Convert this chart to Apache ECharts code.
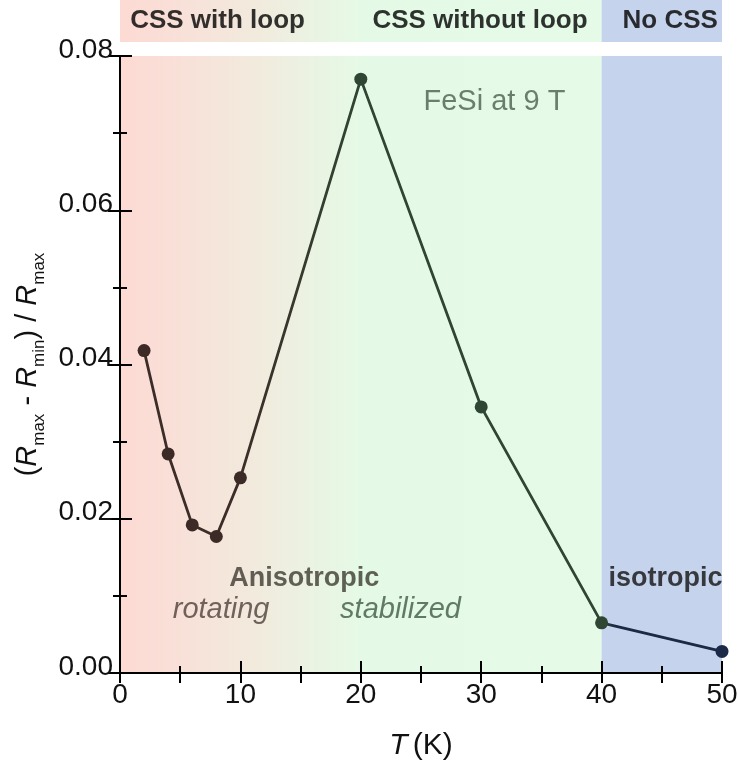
<!DOCTYPE html>
<html>
<head>
<meta charset="utf-8">
<script src="https://cdn.jsdelivr.net/npm/echarts@6/dist/echarts.min.js"></script>
<style>
  html, body { margin: 0; padding: 0; background: #fff; overflow: hidden; }
  #chart { width: 738px; height: 768px; }
</style>
</head>
<body>
<div id="chart"></div>
<script>
// T (K) and (Rmax - Rmin)/Rmax
var temps = [2, 4, 6, 8, 10, 20, 30, 40, 50];
var ratio = [0.0418, 0.0284, 0.0192, 0.0177, 0.0253, 0.0770, 0.0345, 0.0065, 0.0028];

// regime bands along T (top strip)
var bandNames = ['CSS with loop', 'CSS without loop', 'No CSS'];
var bandLabelT = [8.1, 29.9, 45.7];
var cssEdge = 40;

// notes inside the plot
var noteText = ['FeSi at 9 T', 'Anisotropic', 'rotating', 'stabilized', 'isotropic'];
var noteT = [31.1, 15.3, 8.4, 23.3, 45.3];
var noteY = [0.074, 0.0123, 0.0082, 0.0082, 0.0123];

var FONT = '"Liberation Sans", Arial, sans-serif';

var noteStyle = [
  { color: '#4a604d', fontSize: 29 },
  { color: '#3d3a31', fontSize: 27, fontWeight: 'bold' },
  { color: '#4f403a', fontSize: 29, fontStyle: 'italic' },
  { color: '#3f5b45', fontSize: 29, fontStyle: 'italic' },
  { color: '#111111', fontSize: 27, fontWeight: 'bold' }
];

function pointColor(t) {
  if (t <= 10) return '#3b2a25';
  if (t < 50) return '#2e4633';
  return '#1c2947';
}

var tMin = temps[0], tMax = temps[temps.length - 1];
function stop(t) { return (t - tMin) / (tMax - tMin); }

var warmGreen = new echarts.graphic.LinearGradient(0, 0, 1, 0, [
  { offset: 0, color: '#fddad4' },
  { offset: 0.1, color: '#f9dfd7' },
  { offset: 0.25, color: '#f3e8dc' },
  { offset: 0.5, color: '#e5fae6' },
  { offset: 1, color: '#e5fbe7' }
]);
var blue = '#c5d3ec';

var chart = echarts.init(document.getElementById('chart'));

var axisBlack = { lineStyle: { color: '#000', width: 2 } };

var option = {
  animation: false,
  backgroundColor: '#fff',
  textStyle: { fontFamily: FONT },
  grid: [
    { left: 120, right: 16, top: 56, bottom: 95, outerBoundsMode: 'none' },
    { left: 120, right: 16, top: 0, height: 42, outerBoundsMode: 'none' }
  ],
  xAxis: [
    {
      gridIndex: 0, type: 'value', min: 0, max: 50, interval: 10, z: 10,
      axisLine: axisBlack,
      axisTick: { inside: true, length: 12, lineStyle: { color: '#000', width: 2 } },
      minorTick: { show: true, splitNumber: 2, length: 7, lineStyle: { color: '#000', width: 2 } },
      splitLine: { show: false },
      axisLabel: { color: '#111', fontSize: 28, margin: 8, fontFamily: FONT },
      name: '{i|T}{n|(K)}',
      nameLocation: 'middle', nameGap: 58,
      nameTextStyle: {
        rich: {
          i: { fontSize: 30, fontStyle: 'italic', color: '#111', fontFamily: FONT, padding: [0, 5, 0, 0] },
          n: { fontSize: 30, color: '#111', fontFamily: FONT }
        }
      }
    },
    {
      gridIndex: 0, type: 'value', position: 'top', min: 0, max: 50, interval: 5, z: 10,
      axisLine: axisBlack,
      axisTick: { inside: true, length: 10, lineStyle: { color: '#000', width: 2 } },
      axisLabel: { show: false },
      splitLine: { show: false }
    },
    { gridIndex: 1, type: 'value', min: 0, max: 50, show: false }
  ],
  yAxis: [
    {
      gridIndex: 0, type: 'value', min: 0, max: 0.08, interval: 0.02, z: 10,
      axisLine: axisBlack,
      axisTick: { inside: true, length: 12, lineStyle: { color: '#000', width: 2 } },
      minorTick: { show: true, splitNumber: 2, length: 7, lineStyle: { color: '#000', width: 2 } },
      splitLine: { show: false },
      axisLabel: {
        color: '#111', fontSize: 28, margin: 7, fontFamily: FONT,
        verticalAlign: 'bottom', lineHeight: 12,
        formatter: function (v) { return v.toFixed(2); }
      },
      name: '{p|(}{r|R}{s|max}{p| - }{r|R}{s|min}{p|) / }{r|R}{s|max}',
      nameLocation: 'middle', nameGap: 66, nameRotate: 90,
      nameTextStyle: {
        rich: {
          p: { fontSize: 29, color: '#111', lineHeight: 40, verticalAlign: 'middle', fontFamily: FONT },
          r: { fontSize: 29, color: '#111', fontStyle: 'italic', lineHeight: 40, verticalAlign: 'middle', fontFamily: FONT },
          s: { fontSize: 17, color: '#111', lineHeight: 40, verticalAlign: 'bottom', fontFamily: FONT }
        }
      }
    },
    {
      gridIndex: 0, type: 'value', position: 'right', min: 0, max: 0.08, interval: 0.02, z: 10,
      axisLine: axisBlack,
      axisTick: { inside: true, length: 12, lineStyle: { color: '#000', width: 2 } },
      minorTick: { show: true, splitNumber: 2, length: 7, lineStyle: { color: '#000', width: 2 } },
      axisLabel: { show: false },
      splitLine: { show: false }
    },
    { gridIndex: 1, type: 'value', min: 0, max: 1, show: false }
  ],
  series: [
    {
      type: 'line',
      xAxisIndex: 0, yAxisIndex: 0,
      data: temps.map(function (t, i) { return [t, ratio[i]]; }),
      symbol: 'circle', symbolSize: 13, z: 5,
      lineStyle: {
        width: 2.8,
        color: new echarts.graphic.LinearGradient(0, 0, 1, 0, [
          { offset: 0, color: '#3d2d28' },
          { offset: stop(10), color: '#3d2d28' },
          { offset: stop(20), color: '#2f4634' },
          { offset: stop(40), color: '#2f4634' },
          { offset: stop(41), color: '#1d2a45' },
          { offset: 1, color: '#1d2a45' }
        ])
      },
      itemStyle: { color: function (p) { return pointColor(p.value[0]); } },
      markArea: {
        silent: true,
        data: [
          [{ xAxis: 0, itemStyle: { color: warmGreen, opacity: 1 } }, { xAxis: cssEdge }],
          [{ xAxis: cssEdge, itemStyle: { color: blue, opacity: 1 } }, { xAxis: 50 }]
        ]
      }
    },
    {
      type: 'scatter',
      xAxisIndex: 0, yAxisIndex: 0,
      symbolSize: 0, silent: true, z: 6,
      data: noteText.map(function (s, i) {
        return {
          value: [noteT[i], noteY[i]],
          label: Object.assign({
            show: true, position: 'inside', formatter: s, fontFamily: FONT
          }, noteStyle[i])
        };
      })
    },
    {
      type: 'scatter',
      xAxisIndex: 2, yAxisIndex: 2,
      symbolSize: 0, silent: true, z: 6,
      data: bandNames.map(function (s, i) {
        return {
          value: [bandLabelT[i], 0.5],
          label: {
            show: true, position: 'inside', formatter: s,
            fontFamily: FONT, fontWeight: 'bold', fontSize: 26, color: '#000'
          }
        };
      }),
      markArea: {
        silent: true,
        data: [
          [{ xAxis: 0, itemStyle: { color: warmGreen, opacity: 1 } }, { xAxis: cssEdge }],
          [{ xAxis: cssEdge, itemStyle: { color: blue, opacity: 1 } }, { xAxis: 50 }]
        ]
      }
    }
  ]
};

chart.setOption(option);
</script>
</body>
</html>
